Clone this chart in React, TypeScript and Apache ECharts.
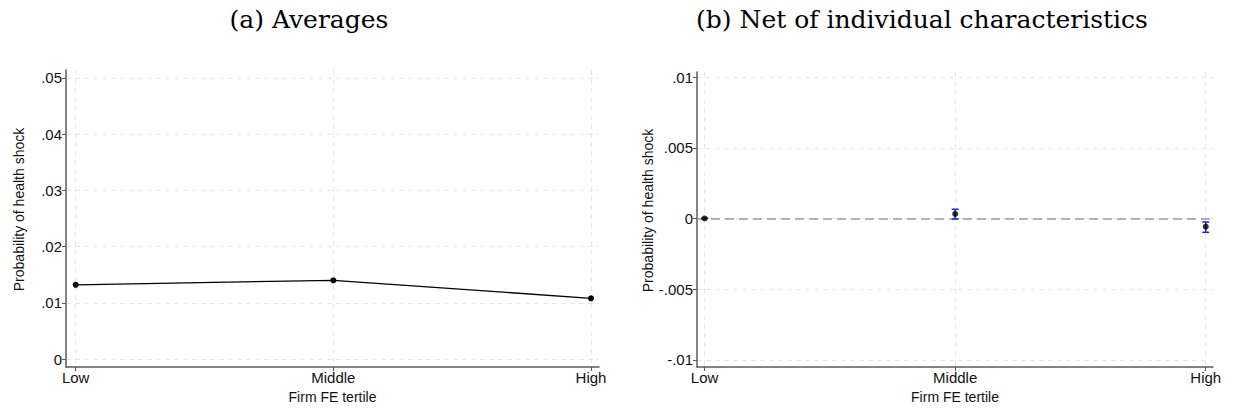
import React, { useEffect, useRef } from "react";
import * as echarts from "echarts";

const categories = ["Low", "Middle", "High"];
const averages = [0.0132, 0.014, 0.0108];
const netEstimates = [0, 0.00032, -0.00058];
const netLower = [0, -0.00004, -0.00098];
const netUpper = [0, 0.00065, -0.00025];
const leftTicks = [0, 0.01, 0.02, 0.03, 0.04, 0.05];
const rightTicks = [-0.01, -0.005, 0, 0.005, 0.01];
const titles = ["(a) Averages", "(b) Net of individual characteristics"];
const yTitle = "Probability of health shock";
const xTitle = "Firm FE tertile";

const fmt = (v: number) => {
  if (v === 0) return "0";
  const s = String(+v.toFixed(4));
  return s.replace("0.", ".");
};

const axisColor = "#5a5a5a";
const gridColor = "#e6e6e6";
const fontFamily = "Liberation Sans, Arial, sans-serif";
const tickFont = { fontFamily, fontSize: 15, color: "#111" };
const nameFont = { fontFamily, fontSize: 14, color: "#111" };

function makeX(gridIndex: number, min: number, max: number) {
  return {
    type: "value",
    gridIndex,
    min,
    max,
    name: xTitle,
    nameLocation: "middle",
    nameGap: 22,
    nameTextStyle: { ...nameFont },
    axisLine: { show: true, onZero: false, lineStyle: { color: axisColor, width: 1.5 } },
    axisTick: { show: true, length: 4, customValues: [0, 1, 2], lineStyle: { color: axisColor, width: 1 } },
    axisLabel: {
      ...tickFont,
      margin: 3,
      customValues: [0, 1, 2],
      formatter: (v: number) => categories[Math.round(v)] ?? "",
    },
    splitLine: { show: true, lineStyle: { color: gridColor, type: [5, 4], width: 1 } },
  };
}

function makeY(gridIndex: number, min: number, max: number, ticks: number[]) {
  return {
    type: "value",
    gridIndex,
    min,
    max,
    name: yTitle,
    nameLocation: "middle",
    nameGap: 40,
    nameTextStyle: { ...nameFont, padding: [0, 0, 0, 18] },
    axisLine: { show: true, onZero: false, lineStyle: { color: axisColor, width: 1.5 } },
    axisTick: { show: true, length: 4, customValues: ticks, lineStyle: { color: axisColor, width: 1 } },
    axisLabel: { ...tickFont, margin: 4, customValues: ticks, formatter: fmt },
    splitLine: { show: true, lineStyle: { color: gridColor, type: [5, 4], width: 1 } },
  };
}

export default function App() {
  const ref = useRef<HTMLDivElement>(null);
  useEffect(() => {
    if (!ref.current) return;
    const chart = echarts.init(ref.current, undefined, { renderer: "svg" });
    const leftData = averages.map((v, i) => [i, v]);
    const ciData = netEstimates.map((_, i) => [i, netLower[i], netUpper[i]]);
    const netData = netEstimates.map((v, i) => [i, v]);
    const titleStyle = { fontFamily: "DejaVu Serif, serif", fontWeight: "normal", fontSize: 25, color: "#000" };
    chart.setOption({
      animation: false,
      backgroundColor: "#fff",
      title: [
        { text: titles[0], left: 304, top: 2, textAlign: "center", textStyle: titleStyle },
        { text: titles[1], left: 917, top: 2, textAlign: "center", textStyle: titleStyle },
      ],
      grid: [
        { left: 66, right: 634, top: 70, bottom: 47 },
        { left: 697, right: 20, top: 72, bottom: 47 },
      ],
      xAxis: [makeX(0, -0.0376, 2.031), makeX(1, -0.0303, 2.029)],
      yAxis: [makeY(0, -0.00142, 0.05142, leftTicks), makeY(1, -0.01051, 0.01036, rightTicks)],
      series: [
        {
          type: "line",
          xAxisIndex: 0,
          yAxisIndex: 0,
          data: leftData,
          symbol: "circle",
          symbolSize: 6,
          itemStyle: { color: "#000" },
          lineStyle: { color: "#000", width: 1.3 },
        },
        {
          type: "custom",
          xAxisIndex: 1,
          yAxisIndex: 1,
          data: ciData,
          z: 3,
          renderItem: (params: any, api: any) => {
            const x = api.value(0);
            const lo = api.coord([x, api.value(1)]);
            const hi = api.coord([x, api.value(2)]);
            const w = 3.5;
            const style = { stroke: "#1f1fe0", lineWidth: 1.5 };
            return {
              type: "group",
              children: [
                { type: "line", shape: { x1: lo[0], y1: lo[1], x2: hi[0], y2: hi[1] }, style },
                { type: "line", shape: { x1: lo[0] - w, y1: lo[1], x2: lo[0] + w, y2: lo[1] }, style },
                { type: "line", shape: { x1: hi[0] - w, y1: hi[1], x2: hi[0] + w, y2: hi[1] }, style },
              ],
            };
          },
        },
        {
          type: "scatter",
          xAxisIndex: 1,
          yAxisIndex: 1,
          data: netData,
          z: 4,
          symbol: "circle",
          symbolSize: 6,
          itemStyle: { color: "#000" },
          markLine: {
            silent: true,
            symbol: "none",
            label: { show: false },
            lineStyle: { color: "#9a9a9a", type: [9, 5], width: 1.5 },
            data: [{ yAxis: 0 }],
            z: 2,
          },
        },
      ],
    });
    return () => chart.dispose();
  }, []);
  return <div ref={ref} style={{ position: "fixed", left: 0, top: 0, width: 1233, height: 414 }} />;
}
